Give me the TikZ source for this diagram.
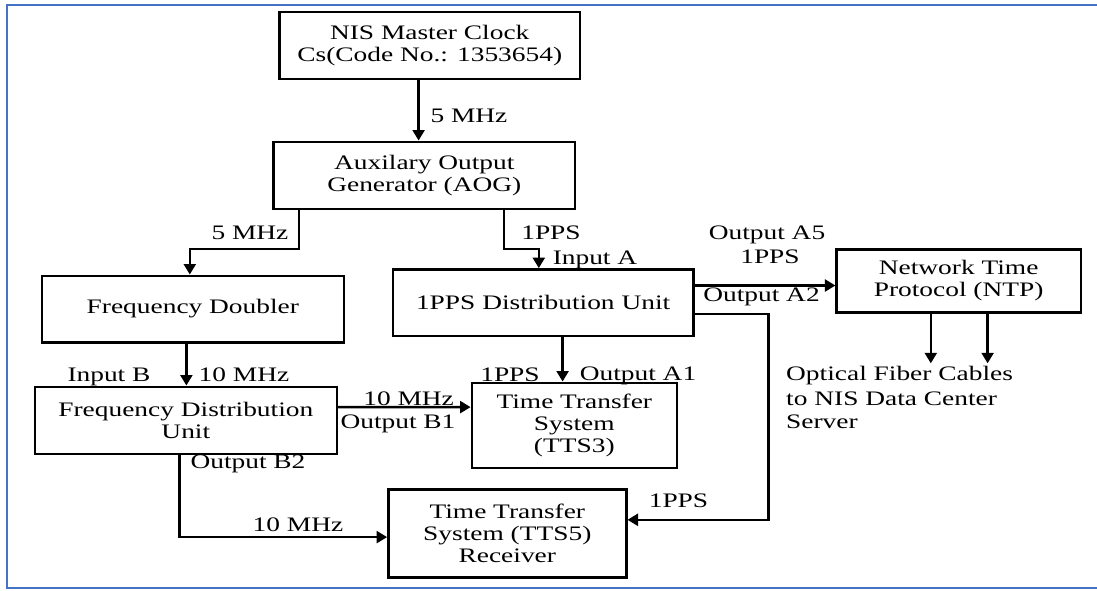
\documentclass[tikz,border=0pt]{standalone}
\usepackage{fontspec}
\setmainfont{Liberation Serif}[FakeStretch=1.33]
\usetikzlibrary{arrows.meta}
\definecolor{frameblue}{RGB}{68,114,196}
\begin{document}
\begin{tikzpicture}[x=1pt,y=-1pt,
  every node/.style={font=\fontsize{20.6}{21.9}\selectfont, inner sep=0pt},
  blk/.style={draw, line width=2.4pt, align=center},
  lbl/.style={anchor=base},
  arr/.style={line width=2.3pt, -{Triangle[length=10.5pt,width=12pt]}}]
\useasboundingbox (0,0) rectangle (1097,590);

% outer frame (open on the right)
\draw[frameblue, line width=2pt] (1100,5) -- (7,5) -- (7,588) -- (1100,588);

% blocks
\node[blk, minimum width=300.5pt, minimum height=67.3pt] (mc) at (429.75,45.35)
  {NIS Master Clock\\Cs(Code No.: 1353654)};
\node[blk, minimum width=301.4pt, minimum height=67.3pt] (aog) at (424.3,175.35)
  {Auxilary Output\\Generator (AOG)};
\node[blk, minimum width=301.7pt, minimum height=66.6pt] (fd) at (192.85,309)
  {Frequency Doubler};
\node[blk, minimum width=300.7pt, minimum height=66.4pt] (pps) at (543.15,302.5)
  {1PPS Distribution Unit};
\node[blk, minimum width=244.1pt, minimum height=63pt] (ntp) at (958.65,280.8)
  {Network Time\\Protocol (NTP)};
\node[blk, minimum width=301.7pt, minimum height=67.3pt] (fdu) at (185.85,420.35)
  {Frequency Distribution\\Unit};
\node[blk, minimum width=205pt, minimum height=85pt] (tts3) at (574.3,425.2)
  {Time Transfer\\System\\(TTS3)};
\node[blk, minimum width=238pt, minimum height=88pt] (tts5) at (507.3,533.3)
  {Time Transfer\\System (TTS5)\\Receiver};

% connectors
\draw[arr] ([xshift=140.3pt]mc.south west) -- ([xshift=146.2pt]aog.north west);
\draw[arr] ([xshift=26.4pt]aog.south west) -- ++(0,39) -| ([xshift=149pt]fd.north west);
\draw[arr] ([xshift=231.4pt]aog.south west) -- ++(0,39) -| ([xshift=147.2pt]pps.north west);
\draw[arr] ([yshift=-17.4pt]pps.north east) coordinate (a5) -- (a5 -| ntp.west);
\draw[arr] ([yshift=-45.7pt]pps.north east) -- ++(73.9,0) |- ([yshift=-31.7pt]tts5.north east);
\draw[arr] ([xshift=171pt]pps.south west) -- ([xshift=92pt]tts3.north west);
\draw[arr] ([xshift=145.6pt]fd.south west) -- ([xshift=152.6pt]fdu.north west);
\draw[arr] ([yshift=-21.6pt]fdu.north east) -- ([yshift=-25.6pt]tts3.north west);
\draw[arr] ([xshift=145.6pt]fdu.south west) |- ([yshift=-49pt]tts5.north west);
\coordinate (f1) at (930.8,363.3);
\coordinate (f2) at (987.6,363.3);
\draw[arr] (f1 |- ntp.south) -- (f1);
\draw[arr] (f2 |- ntp.south) -- (f2);

% signal labels
\node[lbl] (l1) at (469,122.8) {5 MHz};
\node[lbl] (l2) at (250,239.8) {5 MHz};
\node[lbl] (l3) at (551,239.8) {1PPS};
\node[lbl] (l4) at (595,264.8) {Input A};
\node[lbl] (l5) at (767,239.8) {Output A5};
\node[lbl] (l6) at (770,263.8) {1PPS};
\node[lbl] (l7) at (761.5,301.8) {Output A2};
\node[lbl] (l8) at (510,381.8) {1PPS};
\node[lbl] (l9) at (638,380.8) {Output A1};
\node[lbl] (l10) at (109,381.8) {Input B};
\node[lbl] (l11) at (244,381.8) {10 MHz};
\node[lbl] (l12) at (408.6,405) {10 MHz};
\node[lbl] (l13) at (398,428.5) {Output B1};
\node[lbl] (l14) at (248,468.5) {Output B2};
\node[lbl] (l15) at (298,531.8) {10 MHz};
\node[lbl] (l16) at (678.5,507.5) {1PPS};
\node[anchor=base west] (o1) at (786,380.8) {Optical Fiber Cables};
\node[anchor=base west] (o2) at (786,405) {to NIS Data Center};
\node[anchor=base west] (o3) at (786,428.5) {Server};
\end{tikzpicture}
\end{document}
